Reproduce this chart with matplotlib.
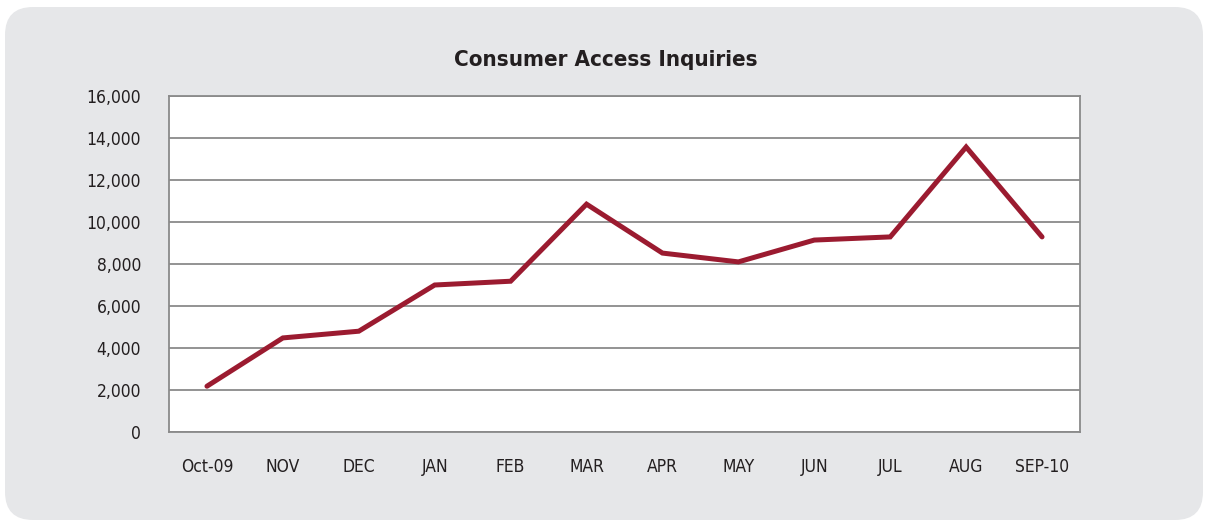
import matplotlib
matplotlib.use("Agg")
import matplotlib.pyplot as plt
from matplotlib.patches import FancyBboxPatch
from matplotlib.ticker import FuncFormatter

# data
months = ['Oct-09', 'NOV', 'DEC', 'JAN', 'FEB', 'MAR', 'APR', 'MAY', 'JUN', 'JUL', 'AUG', 'SEP-10']
inquiries = [2180, 4480, 4800, 7000, 7180, 10850, 8520, 8100, 9140, 9290, 13570, 9290]
yticks = [0, 2000, 4000, 6000, 8000, 10000, 12000, 14000, 16000]

plt.rcParams['font.family'] = ['DejaVu Sans']
plt.rcParams['font.stretch'] = 'condensed'
text_col = '#231f20'
grid_col = '#8a8a8a'

W, H = 1209, 521
fig = plt.figure(figsize=(12.09, 5.21), dpi=100)
fig.patch.set_facecolor('white')

# background axes in pixel units for the rounded grey panel
bg = fig.add_axes([0, 0, 1, 1], zorder=-1)
bg.set_xlim(0, W)
bg.set_ylim(H, 0)
bg.axis('off')
bg.add_patch(FancyBboxPatch((5, 7), 1198, 513, boxstyle="round,pad=0,rounding_size=28",
                            facecolor='#e6e7e9', edgecolor='none'))

ax = fig.add_axes([169 / W, 1 - 432 / H, (1080 - 169) / W, (432 - 96) / H], zorder=1)
ax.set_facecolor('white')

x = list(range(len(months)))
ax.plot(x, inquiries, color='#9b1b30', linewidth=3.6, solid_capstyle='round',
        solid_joinstyle='miter', zorder=3)

ax.set_xlim(-0.5, len(months) - 0.5)
ax.set_ylim(0, 16000)
ax.set_yticks(yticks)
ax.yaxis.set_major_formatter(FuncFormatter(lambda v, p: f'{int(v):,}'))
ax.set_xticks(x)
ax.set_xticklabels(months)
ax.grid(axis='y', color=grid_col, linewidth=1.3)
ax.set_axisbelow(True)

for s in ax.spines.values():
    s.set_color(grid_col)
    s.set_linewidth(1.3)

ax.tick_params(axis='both', length=0, labelsize=12.5, colors=text_col)
ax.tick_params(axis='y', pad=20)
ax.tick_params(axis='x', pad=19)

fig.text(606 / W, 1 - 60 / H, 'Consumer Access Inquiries', ha='center', va='center',
         fontsize=16, fontweight='bold', fontstretch='condensed', family='DejaVu Sans',
         color=text_col)

fig.savefig('out.png', dpi=100)
